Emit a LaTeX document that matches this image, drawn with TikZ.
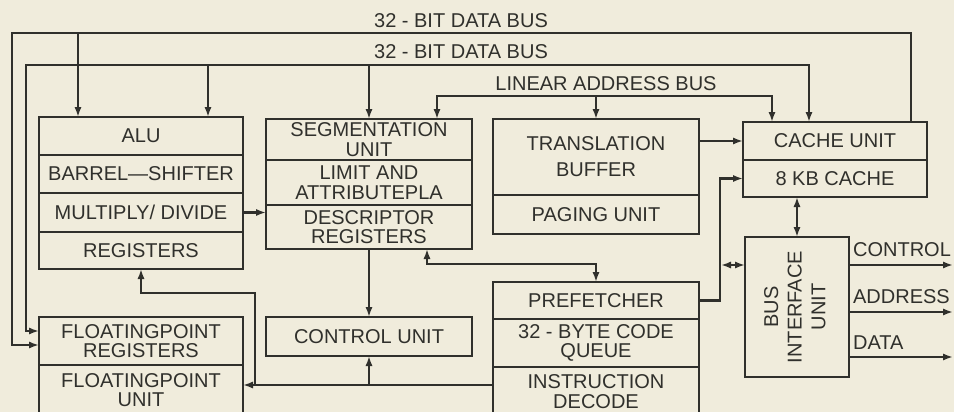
\documentclass[tikz,border=0pt]{standalone}
\usepackage{fontspec}
\setmainfont{Liberation Sans}
\usetikzlibrary{calc,positioning,arrows.meta}
\definecolor{paper}{RGB}{240,236,220}
\definecolor{ink}{RGB}{48,48,44}

\begin{document}
\begin{tikzpicture}[
  x=0.5pt, y=-0.5pt,
  font=\fontsize{10}{9.8}\selectfont,
  line width=1.1pt, color=ink,
  blk/.style={draw, inner sep=0pt, outer sep=0pt, align=center, minimum width=#1},
  lbl/.style={inner sep=0pt},
  >={Latex[length=5pt,width=3.6pt]}
]
\useasboundingbox (0,0) rectangle (954,412);
\clip (0,0) rectangle (954,412);
\fill[paper] (0,0) rectangle (954,412);

% integer unit
\node[blk=102pt, minimum height=19pt, anchor=north] (alu) at (141,117) {ALU};
\node[blk=102pt, minimum height=19pt, below=0pt of alu] (bsh) {BARREL---SHIFTER};
\node[blk=102pt, minimum height=19.5pt, below=0pt of bsh] (mul) {MULTIPLY/ DIVIDE};
\node[blk=102pt, minimum height=18.5pt, below=0pt of mul] (reg) {REGISTERS};

% floating point
\node[blk=102pt, minimum height=24pt, anchor=north] (fpreg) at (141,317) {FLOATINGPOINT\\REGISTERS};
\node[blk=102pt, minimum height=25pt, below=0pt of fpreg] (fpu) {FLOATINGPOINT\\UNIT};

% segmentation
\node[blk=103pt, minimum height=20.5pt, anchor=north] (seg1) at (369,119) {SEGMENTATION\\UNIT};
\node[blk=103pt, minimum height=22.5pt, below=0pt of seg1] (seg2) {LIMIT AND\\ATTRIBUTEPLA};
\node[blk=103pt, minimum height=22pt, below=0pt of seg2] (seg3) {DESCRIPTOR\\REGISTERS};
\node[blk=103pt, minimum height=19.5pt, below=34pt of seg3] (ctrl) {CONTROL UNIT};

% paging
\node[blk=103pt, minimum height=38pt, anchor=north, font=\fontsize{10}{13}\selectfont] (tlb) at (596,119) {TRANSLATION\\BUFFER};
\node[blk=103pt, minimum height=19.5pt, below=0pt of tlb] (pag) {PAGING UNIT};

% prefetch and decode
\node[blk=103pt, minimum height=18.5pt, anchor=north] (pre1) at (596,282) {PREFETCHER};
\node[blk=103pt, minimum height=24pt, below=0pt of pre1] (pre2) {32 - BYTE CODE\\QUEUE};
\node[blk=103pt, minimum height=24.5pt, below=0pt of pre2] (dec) {INSTRUCTION\\DECODE};

% cache and bus interface
\node[blk=92pt, minimum height=19pt, anchor=north] (cache1) at (835,122) {CACHE UNIT};
\node[blk=92pt, minimum height=18.5pt, below=0pt of cache1] (cache2) {8 KB CACHE};
\node[blk=52pt, minimum height=70pt, below right=20pt and 1pt of cache2.south west] (biu)
  {\rotatebox{90}{\fontsize{10}{11.8}\selectfont\begin{tabular}{@{}c@{}}BUS\\INTERFACE\\UNIT\end{tabular}}};

% buses
\coordinate (b1) at (12,33);
\coordinate (b2) at (26,65);
\coordinate (la) at (600,96);
\node[lbl] (b1txt) at (461,21) {32 - BIT DATA BUS};
\node[lbl] (b2txt) at (461,52) {32 - BIT DATA BUS};
\node[lbl] (latxt) at (606,84) {LINEAR ADDRESS BUS};

\draw[->] ([xshift=38pt]cache1.north) |- (b1) |- ([yshift=-2pt]fpreg.west);
\draw[<-] ([xshift=-31.5pt]alu.north) -- ++(0,-84);
\draw[<->] ([yshift=5pt]fpreg.west) -| (b2) -| ([xshift=-13pt]cache1.north);
\draw[<-] ([xshift=33.5pt]alu.north) -- ++(0,-52);
\draw[<-] (seg1.north) -- ++(0,-54);
\draw[<->] ([xshift=34pt]seg1.north) |- (la) -| ([xshift=-31.5pt]cache1.north);
\draw[<-] (tlb.north) -- ++(0,-23);

\draw[->] (mul.east) -- (mul.east -| seg3.west);
\draw[->] (tlb.east |- cache1) -- (cache1.west);
\draw[->] (seg3.south) -- (ctrl.north);
\draw[<->] ([xshift=29pt]seg3.south) -- ++(0,15) -| (pre1.north);
\draw[->] (pre1.east) -- ++(21,0) |- (cache2.west);
\draw[<->] ([yshift=21pt]biu.west) -- ++(-24,0);
\draw[<->] (cache2.south -| biu.north) -- (biu.north);

\coordinate (cb) at ([yshift=3.25pt]dec.west);
\draw[->] (cb) -- (cb -| fpu.east);
\draw[->] (cb -| ctrl.south) -- (ctrl.south);
\draw[->] (cb -| fpu.east) ++(12,0) -- ++(0,-92) -| (reg.south);

% external bus
\draw[->] ([yshift=21pt]biu.east) -- ++(104,0)
  node[lbl, pos=0, anchor=south west, xshift=1.5pt, yshift=3.5pt] (ctltxt) {CONTROL};
\draw[->] ([yshift=-2.5pt]biu.east) -- ++(104,0)
  node[lbl, pos=0, anchor=south west, xshift=1.5pt, yshift=3.5pt] (adrtxt) {ADDRESS};
\draw[->] ([yshift=-25pt]biu.east) -- ++(104,0)
  node[lbl, pos=0, anchor=south west, xshift=1.5pt, yshift=3pt] (dattxt) {DATA};
\end{tikzpicture}
\end{document}
